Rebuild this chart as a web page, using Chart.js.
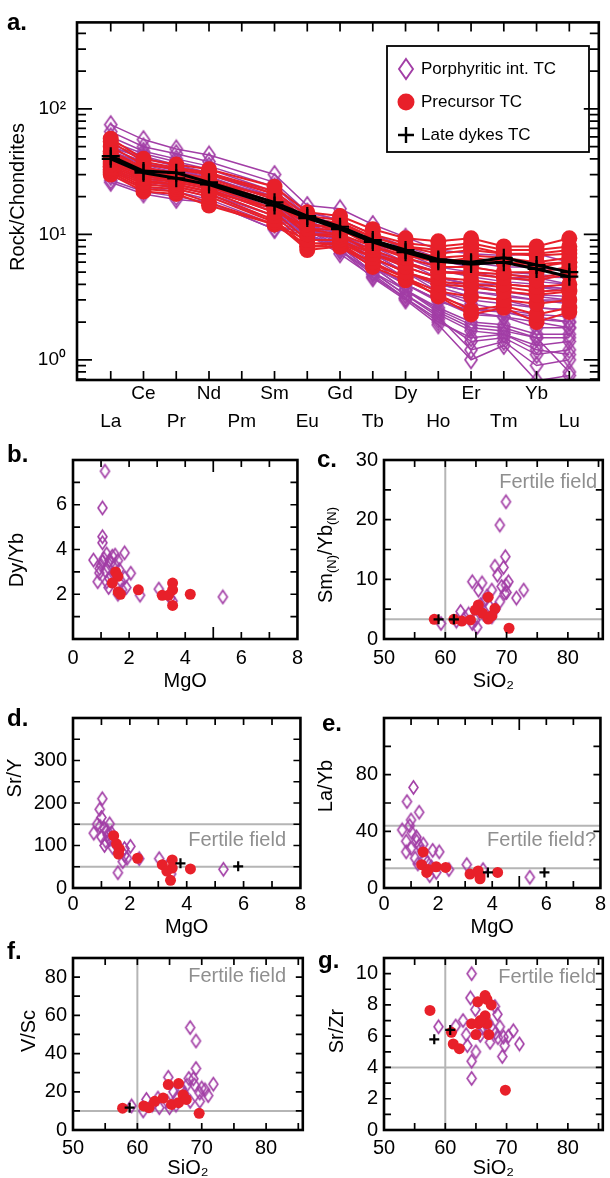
<!DOCTYPE html>
<html>
<head>
<meta charset="utf-8">
<script src="https://cdn.jsdelivr.net/npm/chart.js@4.4.1/dist/chart.umd.min.js"></script>
<style>
  body { margin: 0; background: #fff; width: 610px; height: 1178px; position: relative; overflow: hidden; }
  canvas { position: absolute; }
</style>
</head>
<body>
<canvas id="chartA" width="610" height="440" style="left:0px;top:0px"></canvas>
<canvas id="chartB" width="310" height="260" style="left:0px;top:440px"></canvas>
<canvas id="chartC" width="300" height="260" style="left:310px;top:440px"></canvas>
<canvas id="chartD" width="310" height="240" style="left:0px;top:700px"></canvas>
<canvas id="chartE" width="300" height="240" style="left:310px;top:700px"></canvas>
<canvas id="chartF" width="310" height="238" style="left:0px;top:940px"></canvas>
<canvas id="chartG" width="300" height="238" style="left:310px;top:940px"></canvas>
<script>
// ---- panel a: chondrite-normalised REE (Pm not analysed) ----
var elements = ['La', 'Ce', 'Pr', 'Nd', 'Pm', 'Sm', 'Eu', 'Gd', 'Tb', 'Dy', 'Ho', 'Er', 'Tm', 'Yb', 'Lu'];
var aYTickValues = [1, 10, 100];
var aYTickLabels = ['10⁰', '10¹', '10²'];

var porphyriticREE = [
  [75, 57, 48, 43, null, 30, 17, 16, 12, 9.5, 7.5, 7, 6.8, 7, 6],
  [66, 50, 44, 38, null, 26, 15, 13, 10, 8, 6.5, 6, 5.5, 5.5, 5],
  [60, 46, 40, 35, null, 24, 14, 12, 9, 7, 5.5, 5, 4.5, 4.5, 4],
  [55, 44, 38, 33, null, 22, 14, 11, 8, 6, 4.5, 4, 3.5, 3.2, 3],
  [52, 42, 36, 31, null, 21, 13, 10, 7, 5, 3.8, 3.2, 3, 2.6, 2.5],
  [50, 40, 35, 30, null, 20, 12, 9.5, 6.5, 4.5, 3.2, 2.6, 2.4, 2.2, 2],
  [48, 38, 33, 29, null, 19, 12, 9, 6, 4, 3, 2.3, 2.2, 1.8, 1.8],
  [46, 37, 32, 28, null, 19, 13, 10, 7.5, 5.5, 4.5, 4, 4, 3.8, 3.5],
  [45, 36, 31, 27, null, 18, 12, 8.5, 5.5, 3.6, 2.6, 2, 1.9, 1.6, 1.6],
  [44, 35, 30, 27, null, 18, 11, 8, 5, 3.3, 2.3, 1.7, 1.6, 1.3, 1.4],
  [42, 34, 30, 26, null, 17, 11, 7.5, 4.8, 3.1, 2.1, 1.4, 1.5, 1.1, 1.2],
  [40, 33, 29, 25, null, 17, 12, 9, 6.5, 5, 4, 3.5, 3.2, 3, 2.8],
  [39, 32, 28, 25, null, 16, 11, 8, 5, 3.3, 2.2, 1.2, 1.4, 0.9, 1.0],
  [38, 31, 27, 24, null, 16, 10, 7.5, 4.5, 3, 1.9, 1.0, 1.3, 0.68, 0.75],
  [37, 30, 27, 24, null, 15, 11, 9, 6.5, 5, 4.2, 3.8, 3.5, 3.3, 3.2],
  [36, 30, 26, 23, null, 15, 12, 10, 7.5, 6, 5, 4.8, 4.5, 4.2, 4],
  [35, 29, 26, 23, null, 15, 10, 7, 4.6, 3.1, 2.0, 1.5, 1.6, 1.2, 1.1],
  [34, 28, 25, 22, null, 14, 10, 8, 5.5, 4, 2.9, 2.5, 2.4, 2.1, 2],
  [33, 27, 24, 21, null, 14, 11, 9, 6.5, 5, 4, 3.5, 3.3, 3, 3],
  [32, 27, 24, 21, null, 13, 10, 8, 6, 4.5, 3.5, 3, 2.8, 2.6, 2.5],
  [31, 26, 23, 20, null, 13, 11, 9.5, 7, 6, 5, 5, 4.8, 4.6, 4.5],
  [29, 24, 22, 19, null, 12, 10, 7.5, 5, 3.6, 2.5, 1.9, 1.8, 1.5, 1.5],
  [27, 22, 20, 18, null, 11, 10, 8, 5.5, 4, 3, 2.4, 2.2, 2, 1.8],
  [26, 21, 19, 18, null, 11, 11, 9, 7, 5.5, 4.5, 4, 4, 3.8, 3.7],
  [45, 37, 33, 28, null, 20, 15, 13, 10, 7.5, 6.2, 5.5, 5, 4.8, 4.5],
  [50, 41, 35, 31, null, 21, 14, 12, 8.5, 6.5, 5.2, 4.6, 4.2, 4, 3.6],
  [41, 33, 29, 26, null, 17, 12, 10, 7, 5, 3.5, 2.8, 2.5, 2.3, 2.2],
  [38, 30, 27, 24, null, 16, 11, 8.5, 5.5, 3.6, 2.4, 1.8, 1.7, 1.5, 0.8]
];

var precursorREE = [
  [58, 40, 36, 33, null, 24, 15, 14, 11, 9.3, 8.8, 9.3, 8, 8, 9.3],
  [55, 38, 34, 31, null, 22, 14, 13, 10, 8.5, 8, 8.5, 7.5, 7.5, 8],
  [50, 36, 33, 30, null, 21, 13, 12.5, 9.5, 8, 7, 7.5, 7, 6.8, 7],
  [46, 34, 31, 28, null, 19, 12, 11.5, 9, 7.5, 6.5, 6.8, 6.5, 6, 6.5],
  [44, 33, 30, 27, null, 18, 11, 11, 8.5, 7, 6, 6, 6, 5.5, 6],
  [40, 31, 28, 25, null, 17, 10, 10, 8, 6.5, 5.5, 5.5, 5, 5, 5.5],
  [38, 30, 27, 24, null, 16, 10, 9.5, 7.5, 6, 5, 4.8, 4.5, 4.3, 4.8],
  [36, 28, 26, 23, null, 15, 9, 9, 7, 5.5, 4.5, 4.3, 4, 3.8, 4],
  [34, 26, 25, 22, null, 14, 8.5, 8.5, 6.5, 5, 4, 3.8, 3.5, 3.3, 3.5],
  [33, 25, 24, 21, null, 13, 8, 8, 6, 4.5, 3.5, 3.2, 3, 2.8, 3],
  [32, 24, 23, 20, null, 12.5, 7.5, 8, 5.5, 4.3, 3.3, 2.5, 2.7, 2.3, 2.6],
  [31, 23, 22, 18, null, 12, 8, 8.5, 5.8, 4.5, 3.2, 2.3, 2.6, 2.0, 2.4],
  [30, 22, 21, 17, null, 12, 9, 9, 6.5, 5, 4.2, 4, 3.8, 3.5, 3.6],
  [42, 32, 29, 26, null, 20, 13, 12, 9.5, 8, 7.5, 8, 7, 7, 7.5],
  [37, 29, 27, 24, null, 18, 12, 11, 8, 6.8, 6, 6.5, 6, 5.8, 6],
  [35, 27, 25, 22, null, 16, 11, 10, 7, 5.8, 5, 5, 4.8, 4.5, 5]
];

var lateDykesREE = [
  [42, 32, 31, 26, null, 18, 14, 11.5, 9, 7.5, 6.3, 6, 6.5, 5.7, 5.0],
  [40, 31, 28, 25, null, 17, 13.5, 11, 8.7, 7.2, 6.1, 5.8, 6.0, 5.3, 4.6]
];

// ---- panels b-g: [x, y] pairs ----
var bPorphyritic = [[1.14, 7.5], [1.05, 5.86], [1.05, 4.57], [1.05, 4.3], [0.73, 3.53], [0.94, 2.95], [0.88, 2.56], [1.84, 3.85], [2.06, 2.94], [1.85, 2.75], [1.9, 2.3], [2.39, 1.96], [1.27, 2.3], [3.06, 2.23], [3.47, 1.83], [3.55, 1.7], [5.34, 1.88], [1.0, 3.3], [1.1, 3.6], [1.2, 3.8], [1.3, 3.5], [1.4, 3.7], [1.15, 3.05], [1.25, 3.2], [1.35, 3.4], [1.5, 3.3], [1.6, 3.5], [1.45, 2.9], [1.3, 2.7], [1.2, 2.55], [1.7, 2.6], [1.05, 3.45], [1.5, 3.75], [1.65, 3.1], [0.95, 3.15], [1.75, 2.2], [1.6, 2.0]];
var bPrecursor = [[1.52, 3.0], [1.6, 2.8], [1.4, 2.5], [1.61, 2.1], [1.69, 2.0], [2.33, 2.2], [3.18, 1.95], [3.55, 2.5], [3.55, 2.2], [3.55, 1.5], [4.18, 2.0], [3.4, 1.95]];
var bLateDykes = [];

var cPorphyritic = [[69.9, 23.0], [68.9, 19.1], [68.1, 12.2], [69.8, 13.8], [69.5, 12], [68.5, 10.7], [69.9, 9.05], [70.3, 9.6], [71.6, 6.87], [72.8, 8.2], [65.4, 8.2], [64.4, 9.6], [66.0, 9.4], [67.6, 8.2], [69.7, 7.65], [68.9, 6.25], [62.5, 4.6], [63.8, 4.2], [64.9, 3.2], [65.2, 1.95], [59.3, 2.6], [61.8, 3.0], [67.6, 3.7], [66.5, 6.5], [67.2, 5.5], [68.2, 5.0], [66.8, 7.2], [65.8, 5.8], [63.2, 3.6], [64.4, 2.6], [66.2, 4.2], [69.2, 8.8], [70.0, 7.8]];
var cPrecursor = [[58.2, 3.3], [61.4, 3.3], [62.7, 3.0], [65.4, 5.7], [64.9, 4.85], [67.0, 7.0], [68.1, 5.1], [66.1, 4.3], [67.0, 3.35], [67.6, 3.9], [70.4, 1.8], [64.1, 3.2]];
var cLateDykes = [[58.9, 3.3], [61.4, 3.3]];

var dPorphyritic = [[1.03, 210], [0.94, 185], [1.29, 151], [1.0, 166], [0.73, 129], [1.22, 125], [1.11, 100], [1.46, 106], [1.81, 93], [2.02, 98], [1.81, 77], [1.58, 36], [2.33, 69], [3.03, 69], [3.31, 51], [3.45, 33], [5.29, 44], [0.95, 145], [1.1, 140], [1.2, 135], [1.0, 120], [1.3, 115], [1.15, 110], [1.4, 95], [1.6, 85], [1.9, 70], [1.75, 62], [0.85, 150], [1.35, 130]];
var dPrecursor = [[1.43, 123], [1.53, 104], [1.63, 92], [1.6, 80], [2.27, 70], [3.14, 55], [3.49, 66], [3.49, 47], [3.43, 18], [4.13, 45], [3.3, 40]];
var dLateDykes = [[3.78, 58], [5.81, 51]];

var ePorphyritic = [[1.09, 71], [0.85, 61], [1.3, 53.5], [1.0, 48], [0.67, 41], [1.03, 39], [0.82, 33], [1.21, 33], [0.82, 25.5], [1.15, 21], [1.51, 21], [1.8, 26.6], [2.04, 25.5], [1.93, 11], [1.69, 8.7], [2.4, 13], [3.06, 16.5], [3.66, 13], [5.39, 7.6], [1.2, 36], [1.3, 30], [1.0, 28], [1.4, 26], [1.6, 18], [1.25, 17], [1.75, 15], [0.95, 44], [1.45, 31]];
var ePrecursor = [[1.45, 25.5], [1.39, 16.5], [1.63, 13], [1.93, 15], [2.28, 14.5], [3.18, 9.8], [3.48, 12], [3.55, 8.5], [3.55, 6.5], [4.2, 11], [1.58, 11]];
var eLateDykes = [[3.84, 11], [5.93, 11]];

var fPorphyritic = [[68.2, 53.6], [69.1, 46.6], [69.1, 32.2], [64.8, 27.6], [71.8, 24], [70.5, 21], [68.7, 26.8], [67.7, 23.5], [65.6, 20], [69.7, 19.3], [69.7, 15], [68.2, 15], [63.2, 16.7], [63.4, 11.7], [65.0, 11.7], [61.4, 16], [60.9, 10], [59.1, 12.6], [64.6, 15], [66.9, 21.8], [66.1, 16.7], [68.9, 23.5], [71.0, 18], [67.3, 19], [68.0, 27], [66.0, 13], [62.3, 13], [70.0, 22]];
var fPrecursor = [[57.7, 11.4], [61.0, 12.6], [61.8, 11.7], [64.8, 23.8], [66.4, 24.3], [67.1, 18.4], [65.3, 13.4], [66.4, 14.3], [64.0, 16.7], [67.6, 16], [69.6, 8.7], [62.7, 15]];
var fLateDykes = [[58.8, 11.7]];

var gPorphyritic = [[64.3, 10.0], [64.1, 8.45], [64.9, 7.7], [62.9, 7.0], [63.4, 6.1], [58.9, 6.6], [61.7, 6.65], [63.6, 5.4], [64.3, 4.4], [64.3, 3.3], [65.0, 5.0], [68.1, 7.9], [68.5, 7.4], [68.9, 6.6], [67.3, 5.6], [69.5, 5.95], [69.7, 5.4], [69.3, 4.7], [71.1, 6.35], [72.1, 5.5], [65.7, 6.05], [66.5, 6.8], [68.2, 6.2], [67.8, 6.4], [68.6, 5.9], [66.0, 6.5], [70.3, 6.0], [67.0, 6.9]];
var gPrecursor = [[57.5, 7.65], [61.0, 6.25], [61.3, 5.5], [62.3, 5.2], [64.3, 6.8], [65.0, 6.1], [65.4, 6.8], [65.3, 8.2], [66.5, 8.6], [66.8, 8.35], [67.5, 8.0], [66.5, 7.3], [66.8, 6.8], [67.1, 6.1], [69.8, 2.55], [65.7, 7.0]];
var gLateDykes = [[58.2, 5.8], [60.8, 6.4]];

// tick labels for the small panels
var mgoTicks = [0, 2, 4, 6, 8];
var sio2Ticks = [50, 60, 70, 80];
var bYTicks = [2, 4, 6];
var cYTicks = [0, 10, 20, 30];
var dYTicks = [0, 100, 200, 300];
var eYTicks = [0, 40, 80];
var fYTicks = [0, 20, 40, 60, 80];
var gYTicks = [0, 2, 4, 6, 8, 10];

// "fertile field" boundaries
var cLimits = {h: [3.3], v: [60]};
var dLimits = {h: [150, 50], v: []};
var eLimits = {h: [44, 14], v: []};
var fLimits = {h: [10], v: [60]};
var gLimits = {h: [4], v: [60]};

var PURPLE = '#a23ea6';
var RED = '#e8202a';
var FONT = '"Liberation Sans", Arial, Helvetica, sans-serif';

Chart.defaults.font.family = FONT;
Chart.defaults.color = '#000';
Chart.defaults.animation = false;

function range(a, b, step) {
  var out = [];
  for (var v = a; v <= b + 1e-9; v += step) out.push(+v.toFixed(6));
  return out;
}

function diamond(w, h, lw) {
  var c = document.createElement('canvas');
  c.width = Math.ceil(w + lw * 2);
  c.height = Math.ceil(h + lw * 2);
  var g = c.getContext('2d');
  var cx = c.width / 2, cy = c.height / 2;
  g.strokeStyle = PURPLE;
  g.lineWidth = lw;
  g.beginPath();
  g.moveTo(cx, cy - h / 2);
  g.lineTo(cx + w / 2, cy);
  g.lineTo(cx, cy + h / 2);
  g.lineTo(cx - w / 2, cy);
  g.closePath();
  g.stroke();
  return c;
}
var diamondSmall = diamond(9, 13, 1.6);
var diamondBig = diamond(12, 17, 1.7);
var diamondLegend = diamond(14, 20, 1.9);

// frame, inward ticks, panel letter, y title, notes, legend
var deco = {
  id: 'deco',
  afterDraw: function(chart, args, o) {
    var ctx = chart.ctx, a = chart.chartArea, x = chart.scales.x, y = chart.scales.y;
    ctx.save();
    ctx.strokeStyle = '#000';
    ctx.lineWidth = 1.7;
    ctx.beginPath();
    (o.xTicks || []).forEach(function(v) {
      var px = x.getPixelForValue(v);
      var len = (o.xLong || []).indexOf(v) >= 0 ? o.longLen : o.tickLen;
      ctx.moveTo(px, a.top); ctx.lineTo(px, a.top + len);
      ctx.moveTo(px, a.bottom); ctx.lineTo(px, a.bottom - len);
    });
    (o.yTicks || []).forEach(function(v) {
      var py = y.getPixelForValue(v);
      var len = (o.yLong || []).indexOf(v) >= 0 ? o.longLen : o.tickLen;
      ctx.moveTo(a.left, py); ctx.lineTo(a.left + len, py);
      ctx.moveTo(a.right, py); ctx.lineTo(a.right - len, py);
    });
    ctx.stroke();
    ctx.lineWidth = 2.6;
    ctx.strokeRect(a.left, a.top, a.right - a.left, a.bottom - a.top);

    ctx.fillStyle = '#000';
    ctx.textBaseline = 'middle';
    ctx.textAlign = 'left';
    ctx.font = 'bold 24px ' + FONT;
    ctx.fillText(o.label, o.labelX, o.labelY);

    if (o.note) {
      ctx.font = '20px ' + FONT;
      ctx.fillStyle = '#8f8f8f';
      ctx.textAlign = 'right';
      ctx.fillText(o.note, o.noteX, o.noteY);
    }

    if (o.legend) {
      var L = o.legend;
      ctx.lineWidth = 1.8;
      ctx.strokeStyle = '#000';
      ctx.strokeRect(L.x, L.y, L.w, L.h);
      ctx.font = '17px ' + FONT;
      ctx.fillStyle = '#000';
      ctx.textAlign = 'left';
      L.rows.forEach(function(r, i) {
        var ry = L.y + L.first + i * L.step;
        if (r.kind === 'diamond') {
          ctx.drawImage(diamondLegend, L.mx - diamondLegend.width / 2, ry - diamondLegend.height / 2);
        } else if (r.kind === 'circle') {
          ctx.fillStyle = RED;
          ctx.beginPath(); ctx.arc(L.mx, ry, 8.5, 0, Math.PI * 2); ctx.fill();
        } else {
          ctx.strokeStyle = '#000'; ctx.lineWidth = 2.4;
          ctx.beginPath();
          ctx.moveTo(L.mx - 8, ry); ctx.lineTo(L.mx + 8, ry);
          ctx.moveTo(L.mx, ry - 8); ctx.lineTo(L.mx, ry + 8);
          ctx.stroke();
        }
        ctx.fillStyle = '#000';
        ctx.fillText(r.text, L.tx, ry);
      });
    }

    if (o.yTitle) {
      ctx.translate(o.yTitleX, o.yTitleY);
      ctx.rotate(-Math.PI / 2);
      ctx.fillStyle = '#000';
      ctx.textAlign = 'left';
      var total = 0;
      o.yTitle.forEach(function(p) {
        ctx.font = (p.sub ? '13px ' : '20px ') + FONT;
        p.w = ctx.measureText(p.t).width;
        total += p.w;
      });
      var cx = -total / 2;
      o.yTitle.forEach(function(p) {
        ctx.font = (p.sub ? '13px ' : '20px ') + FONT;
        ctx.fillText(p.t, cx, p.sub ? 6 : 0);
        cx += p.w;
      });
    }
    ctx.restore();
  }
};

function toXY(pairs) {
  return pairs.map(function(p) { return {x: p[0], y: p[1]}; });
}

// ---------- panel a ----------
function reeSeries(vals) {
  return vals.map(function(v, i) { return {x: i, y: v}; });
}
var aDatasets = [];
porphyriticREE.forEach(function(s) {
  aDatasets.push({data: reeSeries(s), borderColor: PURPLE, borderWidth: 1.5, pointStyle: diamondBig,
    pointRadius: 9, spanGaps: true, order: 3});
});
precursorREE.forEach(function(s) {
  aDatasets.push({data: reeSeries(s), borderColor: RED, borderWidth: 2, pointStyle: 'circle', pointRadius: 8,
    pointBackgroundColor: RED, pointBorderWidth: 0, spanGaps: true, order: 2});
});
lateDykesREE.forEach(function(s) {
  aDatasets.push({data: reeSeries(s), borderColor: '#000', borderWidth: 3, pointStyle: 'cross', pointRadius: 9,
    pointBorderColor: '#000', pointBorderWidth: 2.2, spanGaps: true, order: 1});
});

var logMinor = [];
[0.1, 1, 10, 100].forEach(function(d) { for (var k = 1; k <= 9; k++) logMinor.push(+(k * d).toFixed(3)); });

new Chart(document.getElementById('chartA'), {
  type: 'line',
  data: {datasets: aDatasets},
  options: {
    responsive: false,
    devicePixelRatio: 1,
    layout: {padding: {top: 10, right: 4, left: 0, bottom: 0}},
    plugins: {
      legend: {display: false},
      tooltip: {enabled: false},
      deco: {
        label: 'a.', labelX: 7, labelY: 23,
        xTicks: range(0, 14, 1), tickLen: 9, longLen: 15,
        yTicks: logMinor.filter(function(v) { return v >= 0.69 && v <= 490; }), yLong: aYTickValues,
        yTitle: [{t: 'Rock/Chondrites'}], yTitleX: 18, yTitleY: 197,
        legend: {x: 387, y: 46, w: 202, h: 106, first: 23, step: 33, mx: 406, tx: 421,
          rows: [{kind: 'diamond', text: 'Porphyritic int. TC'}, {kind: 'circle', text: 'Precursor TC'},
                 {kind: 'cross', text: 'Late dykes TC'}]}
      }
    },
    scales: {
      x: {
        type: 'linear', min: -1.03, max: 14.9,
        grid: {display: false, drawTicks: false}, border: {display: false},
        afterBuildTicks: function(s) { s.ticks = elements.map(function(e, i) { return {value: i}; }); },
        afterFit: function(s) { s.height = 60; },
        ticks: {
          font: {size: 19, lineHeight: 1.47}, padding: 0, maxRotation: 0, autoSkip: false,
          callback: function(v) { var n = elements[v]; return v % 2 ? [n, ''] : ['', n]; }
        }
      },
      y: {
        type: 'logarithmic', min: 0.69, max: 490,
        grid: {display: false, drawTicks: false}, border: {display: false},
        afterBuildTicks: function(s) { s.ticks = aYTickValues.map(function(v) { return {value: v}; }); },
        afterFit: function(s) { s.width = 77; },
        ticks: {
          font: {size: 19}, padding: 11,
          callback: function(v) { return aYTickLabels[aYTickValues.indexOf(v)]; }
        }
      }
    }
  },
  plugins: [deco]
});

// ---------- panels b-g ----------
function scatterPanel(id, p) {
  var sets = [];
  p.limits.h.forEach(function(v) {
    sets.push({type: 'line', data: [{x: p.xMin, y: v}, {x: p.xMax, y: v}], borderColor: '#b5b5b5', borderWidth: 2,
      pointRadius: 0, order: 10});
  });
  p.limits.v.forEach(function(v) {
    sets.push({type: 'line', data: [{x: v, y: p.yMin}, {x: v, y: p.yMax}], borderColor: '#b5b5b5', borderWidth: 2,
      pointRadius: 0, order: 10});
  });
  sets.push({data: toXY(p.por), pointStyle: diamondSmall, pointRadius: 6, order: 3});
  sets.push({data: toXY(p.pre), pointStyle: 'circle', pointRadius: 5.5, backgroundColor: RED, borderWidth: 0, order: 2});
  sets.push({data: toXY(p.late), pointStyle: 'cross', pointRadius: 5, borderColor: '#000', borderWidth: 2.2, order: 1});

  return new Chart(document.getElementById(id), {
    type: 'scatter',
    data: {datasets: sets},
    options: {
      responsive: false,
      devicePixelRatio: 1,
      layout: {padding: {top: p.top, right: p.canvasW - p.right, left: 0, bottom: 0}},
      plugins: {
        legend: {display: false},
        tooltip: {enabled: false},
        deco: {
          label: p.label, labelX: p.labelX, labelY: p.labelY,
          xTicks: p.xMarks, xLong: p.xLong || [], yTicks: p.yMarks, tickLen: 7, longLen: 12,
          yTitle: p.yTitle, yTitleX: p.yTitleX, yTitleY: p.yTitleY,
          note: p.note, noteX: p.noteX, noteY: p.noteY
        }
      },
      scales: {
        x: {
          type: 'linear', min: p.xMin, max: p.xMax,
          grid: {display: false, drawTicks: false}, border: {display: false},
          afterBuildTicks: function(s) { s.ticks = p.xLabels.map(function(v) { return {value: v}; }); },
          afterFit: function(s) { s.height = p.canvasH - p.bottom; },
          ticks: {font: {size: 20}, padding: p.xTickPad, maxRotation: 0, autoSkip: false},
          title: {display: true, text: p.xTitle, font: {size: 20, lineHeight: 1}, padding: {top: 0, bottom: p.xTitlePad}}
        },
        y: {
          type: 'linear', min: p.yMin, max: p.yMax,
          grid: {display: false, drawTicks: false}, border: {display: false},
          afterBuildTicks: function(s) { s.ticks = p.yLabels.map(function(v) { return {value: v}; }); },
          afterFit: function(s) { s.width = p.left; },
          ticks: {font: {size: 20}, padding: 6}
        }
      }
    },
    plugins: [deco]
  });
}

var row1 = {canvasH: 260, top: 20, bottom: 199, xTickPad: 7, xTitlePad: 9};
var row2 = {canvasH: 240, top: 9, bottom: 188, xTickPad: 4, xTitlePad: 3};
var row3 = {canvasH: 238, top: 11, bottom: 190, xTickPad: 6, xTitlePad: 0};
var leftCol = {canvasW: 310, left: 73, right: 303};
var rightCol = {canvasW: 300, left: 74, right: 296};
var mgoAxis = {xMin: 0, xMax: 8, xLabels: mgoTicks, xMarks: range(1, 7, 1), xTitle: 'MgO'};
var sio2Axis = {xMin: 50, xMax: 85.7, xLabels: sio2Ticks, xMarks: range(55, 85, 5), xTitle: 'SiO₂'};

function merge() {
  var o = {};
  for (var i = 0; i < arguments.length; i++) for (var k in arguments[i]) o[k] = arguments[i][k];
  return o;
}

scatterPanel('chartB', merge(row1, leftCol, mgoAxis, {
  xLong: [5], yMin: 0, yMax: 8, yLabels: bYTicks, yMarks: range(1, 7, 1),
  por: bPorphyritic, pre: bPrecursor, late: bLateDykes, limits: {h: [], v: []},
  label: 'b.', labelX: 7, labelY: 15,
  yTitle: [{t: 'Dy/Yb'}], yTitleX: 17, yTitleY: 120
}));

scatterPanel('chartC', merge(row1, rightCol, sio2Axis, {
  yMin: 0, yMax: 30, yLabels: cYTicks, yMarks: range(5, 25, 5),
  por: cPorphyritic, pre: cPrecursor, late: cLateDykes, limits: cLimits,
  label: 'c.', labelX: 7, labelY: 20,
  yTitle: [{t: 'Sm'}, {t: '(N)', sub: true}, {t: '/Yb'}, {t: '(N)', sub: true}], yTitleX: 16, yTitleY: 115,
  note: 'Fertile field', noteX: 287, noteY: 42
}));

scatterPanel('chartD', merge(row2, leftCol, mgoAxis, {
  yMin: 0, yMax: 400, yLabels: dYTicks, yMarks: range(50, 350, 50),
  por: dPorphyritic, pre: dPrecursor, late: dLateDykes, limits: dLimits,
  label: 'd.', labelX: 7, labelY: 19,
  yTitle: [{t: 'Sr/Y'}], yTitleX: 15, yTitleY: 78,
  note: 'Fertile field', noteX: 286, noteY: 140
}));

scatterPanel('chartE', merge(row2, rightCol, mgoAxis, {
  xLong: [5], yMin: 0, yMax: 120, yLabels: eYTicks, yMarks: range(20, 100, 20),
  por: ePorphyritic, pre: ePrecursor, late: eLateDykes, limits: eLimits,
  label: 'e.', labelX: 12, labelY: 24,
  yTitle: [{t: 'La/Yb'}], yTitleX: 16, yTitleY: 86,
  note: 'Fertile field?', noteX: 286, noteY: 140
}));

scatterPanel('chartF', merge(row3, leftCol, sio2Axis, {
  yMin: 0, yMax: 90, yLabels: fYTicks, yMarks: range(10, 80, 10),
  por: fPorphyritic, pre: fPrecursor, late: fLateDykes, limits: fLimits,
  label: 'f.', labelX: 7, labelY: 12,
  yTitle: [{t: 'V/Sc'}], yTitleX: 29, yTitleY: 91,
  note: 'Fertile field', noteX: 286, noteY: 36
}));

scatterPanel('chartG', merge(row3, rightCol, sio2Axis, {
  yMin: 0, yMax: 11, yLabels: gYTicks, yMarks: range(1, 10, 1),
  por: gPorphyritic, pre: gPrecursor, late: gLateDykes, limits: gLimits,
  label: 'g.', labelX: 8, labelY: 21,
  yTitle: [{t: 'Sr/Zr'}], yTitleX: 27, yTitleY: 91,
  note: 'Fertile field', noteX: 286, noteY: 37
}));
</script>
</body>
</html>
